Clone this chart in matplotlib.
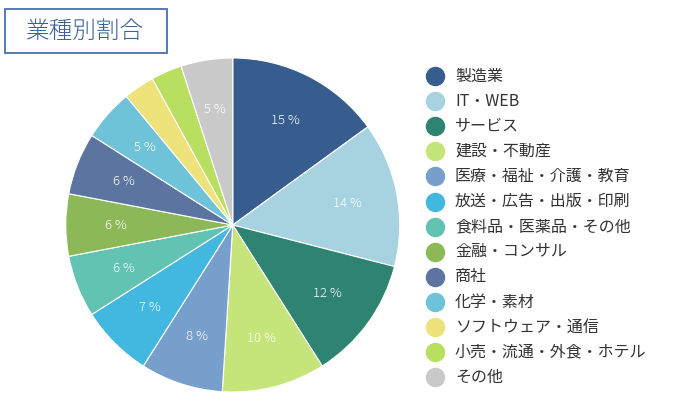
import matplotlib
matplotlib.use("Agg")
import matplotlib.pyplot as plt
from matplotlib.patches import Rectangle
from matplotlib.lines import Line2D

plt.rcParams['font.family'] = ['Noto Sans CJK JP', 'DejaVu Sans']

# industry categories and share (%)
categories = ["製造業", "IT・WEB", "サービス", "建設・不動産", "医療・福祉・介護・教育",
              "放送・広告・出版・印刷", "食料品・医薬品・その他", "金融・コンサル", "商社",
              "化学・素材", "ソフトウェア・通信", "小売・流通・外食・ホテル", "その他"]
shares = [15, 14, 12, 10, 8, 7, 6, 6, 6, 5, 3, 3, 5]
colors = ["#365d8e", "#a6d3df", "#2f8373", "#c5e57a", "#779fcc", "#42b7e0", "#62c3b3",
          "#8cb858", "#5b74a0", "#6fc3d8", "#eee27a", "#b8df60", "#c9c9c9"]

fig = plt.figure(figsize=(7, 4), dpi=100)

# pie
ax = fig.add_axes([0.094, 0.02, 0.477, 0.835])
wedges, texts, autotexts = ax.pie(
    shares, colors=colors, startangle=90, counterclock=False,
    autopct=lambda p: "{:.0f} %".format(p) if p >= 4 else "",
    pctdistance=0.7, wedgeprops=dict(linewidth=0.8, edgecolor="white"),
    textprops=dict(color="white", fontsize=9.5, fontweight="light"))
ax.set_xlim(-1, 1)
ax.set_ylim(-1, 1)
ax.set_aspect("auto")
ax.axis("off")

# title box
fig.add_artist(Rectangle((5 / 700, 1 - 53 / 400), 162 / 700, 44 / 400,
                         transform=fig.transFigure, fill=False,
                         edgecolor="#4a70b0", linewidth=1.3))
fig.text(85 / 700, 1 - 31 / 400, "業種別割合", ha="center", va="center",
         fontsize=17, color="#3b5f96", fontweight="light")

# legend
for i, (lab, col) in enumerate(zip(categories, colors)):
    y = 1 - (76 + i * 25.1) / 400
    fig.add_artist(Line2D([435 / 700], [y], marker="o", markersize=13,
                          color=col, linestyle="none", transform=fig.transFigure))
    fig.text(455 / 700, y, lab, ha="left", va="center", fontsize=11.5, color="#333333")

fig.savefig("out.png", dpi=100)
